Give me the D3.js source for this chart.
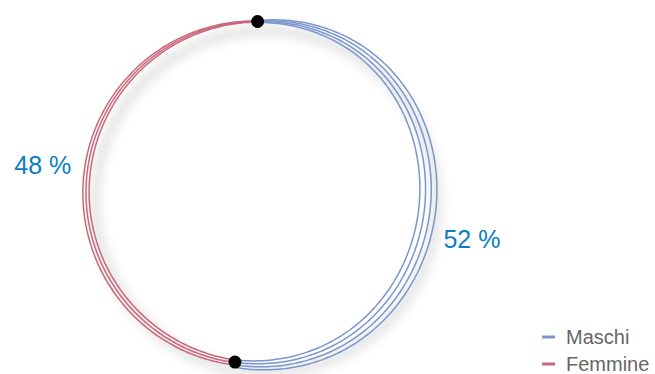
<!DOCTYPE html>
<html>
<head>
<meta charset="utf-8">
<script src="https://cdn.jsdelivr.net/npm/d3@7"></script>
<style>
  html, body { margin: 0; padding: 0; background: #fff; }
  svg { display: block; }
</style>
</head>
<body>
<svg id="chart" width="655" height="374"></svg>
<script>
// Gender split
const categories = ["Maschi", "Femmine"];
const values = [52, 48];
const valueLabels = ["52 %", "48 %"];

// Presentation
const colors = ["#7b96cd", "#c9677b"];
const strokeCounts = [4, 3];
// hand-drawn stroke spacing and drift along each arc (start -> end)
const strokeSpread = [[0.6, 4.0, 5.8, 5.7, 4.8, 2.5], [2.5, 3.6, 3.2, 3.0, 2.0, 0.5]];
const strokeDrift  = [[0, 6, 1, -1, 3, 1.5], [0.5, 0, 0, 0, 0, 0]];
const labelShiftDeg = [8.5, 3.5];
const labelRadius = [220, 216];

const width = 655, height = 374;
const cx = 257, cy = 192.5, R = 171;
const startAngle = 0.2 * Math.PI / 180;

const svg = d3.select("#chart");
const defs = svg.append("defs");
defs.append("filter").attr("id", "soft")
  .attr("x", "-20%").attr("y", "-20%").attr("width", "140%").attr("height", "140%")
  .append("feGaussianBlur").attr("stdDeviation", 5);

const pie = d3.pie().sort(null).startAngle(startAngle).endAngle(startAngle + 2 * Math.PI);
const arcs = pie(values);

const g = svg.append("g").attr("transform", `translate(${cx},${cy})`);

// soft shadow under the ring
g.append("circle")
  .attr("cx", 9).attr("cy", 9).attr("r", R)
  .attr("fill", "none")
  .attr("stroke", "#000")
  .attr("stroke-opacity", 0.09)
  .attr("stroke-width", 12)
  .attr("filter", "url(#soft)");

const radial = d3.lineRadial().curve(d3.curveCatmullRom);

arcs.forEach((a, si) => {
  const n = strokeCounts[si];
  const spread = d3.interpolateBasis(strokeSpread[si]);
  const drift = d3.interpolateBasis(strokeDrift[si]);
  const us = d3.range(0, 1.0001, 1 / 160);
  for (let k = 0; k < n; k++) {
    const off = k - (n - 1) / 2;
    const pts = us.map(u => {
      const ang = a.startAngle + u * (a.endAngle - a.startAngle);
      return [ang, R + drift(u) + off * spread(u)];
    });
    g.append("path")
      .attr("d", radial(pts))
      .attr("fill", "none")
      .attr("stroke", colors[si])
      .attr("stroke-width", 1.5);
  }
});

// boundary markers
g.selectAll("circle.node")
  .data(arcs)
  .join("circle")
  .attr("class", "node")
  .attr("cx", d => R * Math.sin(d.startAngle))
  .attr("cy", d => -R * Math.cos(d.startAngle))
  .attr("r", 6.5)
  .attr("fill", "#000");

// value labels
g.selectAll("text.value")
  .data(arcs)
  .join("text")
  .attr("class", "value")
  .attr("x", (d, i) => labelRadius[i] * Math.sin((d.startAngle + d.endAngle) / 2 + labelShiftDeg[i] * Math.PI / 180))
  .attr("y", (d, i) => -labelRadius[i] * Math.cos((d.startAngle + d.endAngle) / 2 + labelShiftDeg[i] * Math.PI / 180))
  .attr("dy", "0.35em")
  .attr("text-anchor", "middle")
  .attr("font-family", "'Liberation Sans', Arial, Helvetica, sans-serif")
  .attr("font-size", 25)
  .attr("fill", "#0a7ec2")
  .text((d, i) => valueLabels[i]);

// legend
const legend = svg.append("g").attr("transform", "translate(542,337)");
const items = legend.selectAll("g").data(categories).join("g")
  .attr("transform", (d, i) => `translate(0,${i * 27})`);
items.append("line")
  .attr("x1", 0).attr("x2", 13).attr("y1", 0).attr("y2", 0)
  .attr("stroke", (d, i) => colors[i])
  .attr("stroke-width", 3);
items.append("text")
  .attr("x", 24).attr("y", 0).attr("dy", "0.35em")
  .attr("font-family", "'Liberation Sans', Arial, Helvetica, sans-serif")
  .attr("font-size", 20)
  .attr("fill", "#666")
  .text(d => d);
</script>
</body>
</html>
